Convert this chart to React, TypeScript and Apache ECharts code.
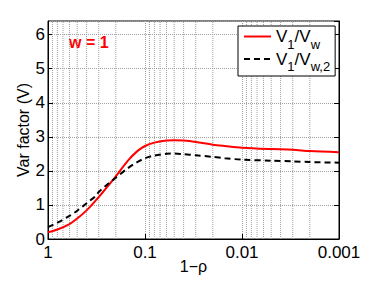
import React, { useEffect, useRef } from "react";
import * as echarts from "echarts";

const oneMinusRho = [1, 0.8, 0.6, 0.5, 0.4, 0.32, 0.3, 0.25, 0.2, 0.15, 0.12, 0.1, 0.08, 0.06, 0.05, 0.04, 0.03, 0.02, 0.015, 0.01, 0.005, 0.003, 0.002, 0.001];
const ratioVw = [0.2, 0.28, 0.44, 0.6, 0.84, 1.14, 1.23, 1.5, 1.84, 2.3, 2.58, 2.73, 2.83, 2.89, 2.9, 2.89, 2.85, 2.77, 2.73, 2.68, 2.64, 2.62, 2.58, 2.55];
const ratioVw2 = [0.35, 0.48, 0.68, 0.83, 1.05, 1.27, 1.38, 1.58, 1.8, 2.08, 2.26, 2.37, 2.45, 2.5, 2.51, 2.49, 2.46, 2.41, 2.37, 2.33, 2.3, 2.28, 2.26, 2.24];
const minorGridX = [0.9, 0.8, 0.7, 0.6, 0.5, 0.4, 0.3, 0.2, 0.09, 0.08, 0.07, 0.06, 0.05, 0.04, 0.03, 0.02, 0.009, 0.008, 0.007, 0.006, 0.005, 0.004, 0.003, 0.002];
const xTickLabels: Record<string, string> = { "1": "1", "0.1": "0.1", "0.01": "0.01", "0.001": "0.001" };
const yRange = [0, 6.4];
const seriesNames = ["V1/Vw", "V1/Vw,2"];
const annotation = "w = 1";

const FONT = "'Liberation Sans', Arial, Helvetica, sans-serif";

export default function App() {
  const ref = useRef<HTMLDivElement>(null);
  useEffect(() => {
    if (!ref.current) return;
    const chart = echarts.init(ref.current, null, { renderer: "svg" });
    const gridLine = { show: true, lineStyle: { type: "dotted" as const, color: "#a0a0a0", width: 1 } };
    const minorGridData: any[] = [];
    minorGridX.forEach((v) => {
      minorGridData.push([v, yRange[0]], [v, yRange[1]], [v, "-"]);
    });
    chart.setOption({
      animation: false,
      backgroundColor: "#fff",
      textStyle: { fontFamily: FONT },
      grid: {
        left: 48,
        top: 21,
        right: 35,
        bottom: 42,
        containLabel: false,
        outerBoundsMode: "none",
        show: true,
        borderColor: "#000",
        borderWidth: 1,
        backgroundColor: "transparent",
      },
      xAxis: {
        type: "log",
        logBase: 10,
        min: 0.001,
        max: 1,
        inverse: true,
        name: "1\u2212\u03c1",
        nameLocation: "middle",
        nameGap: 19,
        nameMoveOverlap: false,
        nameTextStyle: { fontSize: 16, color: "#000", fontFamily: FONT },
        axisLine: { show: true, lineStyle: { color: "#000", width: 1 } },
        axisTick: { show: true, inside: true, length: 5, lineStyle: { color: "#000" } },
        axisLabel: {
          fontSize: 17,
          color: "#000",
          margin: 5,
          fontFamily: FONT,
          formatter: (v: number) => xTickLabels[String(Number(v.toPrecision(1)))] ?? "",
        },
        splitLine: gridLine,
        minorTick: { show: false },
      },
      yAxis: [
        {
          type: "value",
          min: yRange[0],
          max: yRange[1],
          interval: 1,
          name: "Var factor (V)",
          nameLocation: "middle",
          nameGap: 17,
          nameMoveOverlap: false,
          nameTextStyle: { fontSize: 16, color: "#000", fontFamily: FONT },
          axisLine: { show: true, lineStyle: { color: "#000", width: 1 } },
          axisTick: { show: true, inside: true, length: 5, lineStyle: { color: "#000" } },
          axisLabel: { fontSize: 17, color: "#000", margin: 3, fontFamily: FONT, showMaxLabel: false },
          splitLine: gridLine,
        },
        {
          type: "value",
          min: yRange[0],
          max: yRange[1],
          interval: 1,
          position: "right",
          axisLine: { show: true, lineStyle: { color: "#000", width: 1 } },
          axisTick: { show: true, inside: true, length: 5, lineStyle: { color: "#000" } },
          axisLabel: { show: false },
          splitLine: { show: false },
        },
      ],
      legend: {
        data: seriesNames,
        orient: "vertical",
        left: 238,
        top: 26,
        itemWidth: 27,
        itemHeight: 14,
        itemGap: 0,
        padding: [2, 5, 3, 5],
        backgroundColor: "#fff",
        borderColor: "#000",
        borderWidth: 1,
        borderRadius: 0,
        selectedMode: false,
        itemStyle: { opacity: 0 },
        formatter: (name: string) => (name === seriesNames[0] ? "{a|V}{s|1}{a|/V}{s|w}" : "{a|V}{s|1}{a|/V}{s|w,2}"),
        textStyle: {
          fontFamily: FONT,
          color: "#000",
          fontSize: 17,
          rich: {
            a: { fontSize: 17, lineHeight: 28, color: "#000", fontFamily: FONT },
            s: { fontSize: 13, lineHeight: 12, verticalAlign: "bottom", color: "#000", fontFamily: FONT },
          },
        },
      },
      graphic: [
        {
          type: "text",
          left: 69,
          top: 34,
          silent: true,
          style: { text: annotation, fill: "#ff0000", fontSize: 16, fontWeight: "bold", fontFamily: FONT },
        },
      ],
      series: [
        {
          name: "minorGrid",
          type: "line",
          data: minorGridData,
          connectNulls: false,
          showSymbol: false,
          symbol: "none",
          silent: true,
          z: 0,
          lineStyle: { type: "dotted", color: "#a0a0a0", width: 1 },
        },
        {
          name: seriesNames[0],
          type: "line",
          data: oneMinusRho.map((x, i) => [x, ratioVw[i]]),
          showSymbol: false,
          symbol: "none",
          smooth: 0.3,
          lineStyle: { color: "#ff0000", width: 2 },
          itemStyle: { color: "#ff0000" },
          z: 3,
        },
        {
          name: seriesNames[1],
          type: "line",
          data: oneMinusRho.map((x, i) => [x, ratioVw2[i]]),
          showSymbol: false,
          symbol: "none",
          smooth: 0.3,
          lineStyle: { color: "#000", width: 2, type: [6, 4] },
          itemStyle: { color: "#000" },
          z: 3,
        },
      ],
    });
    return () => chart.dispose();
  }, []);
  return <div ref={ref} style={{ position: "fixed", left: 0, top: 0, width: 374, height: 281 }} />;
}
